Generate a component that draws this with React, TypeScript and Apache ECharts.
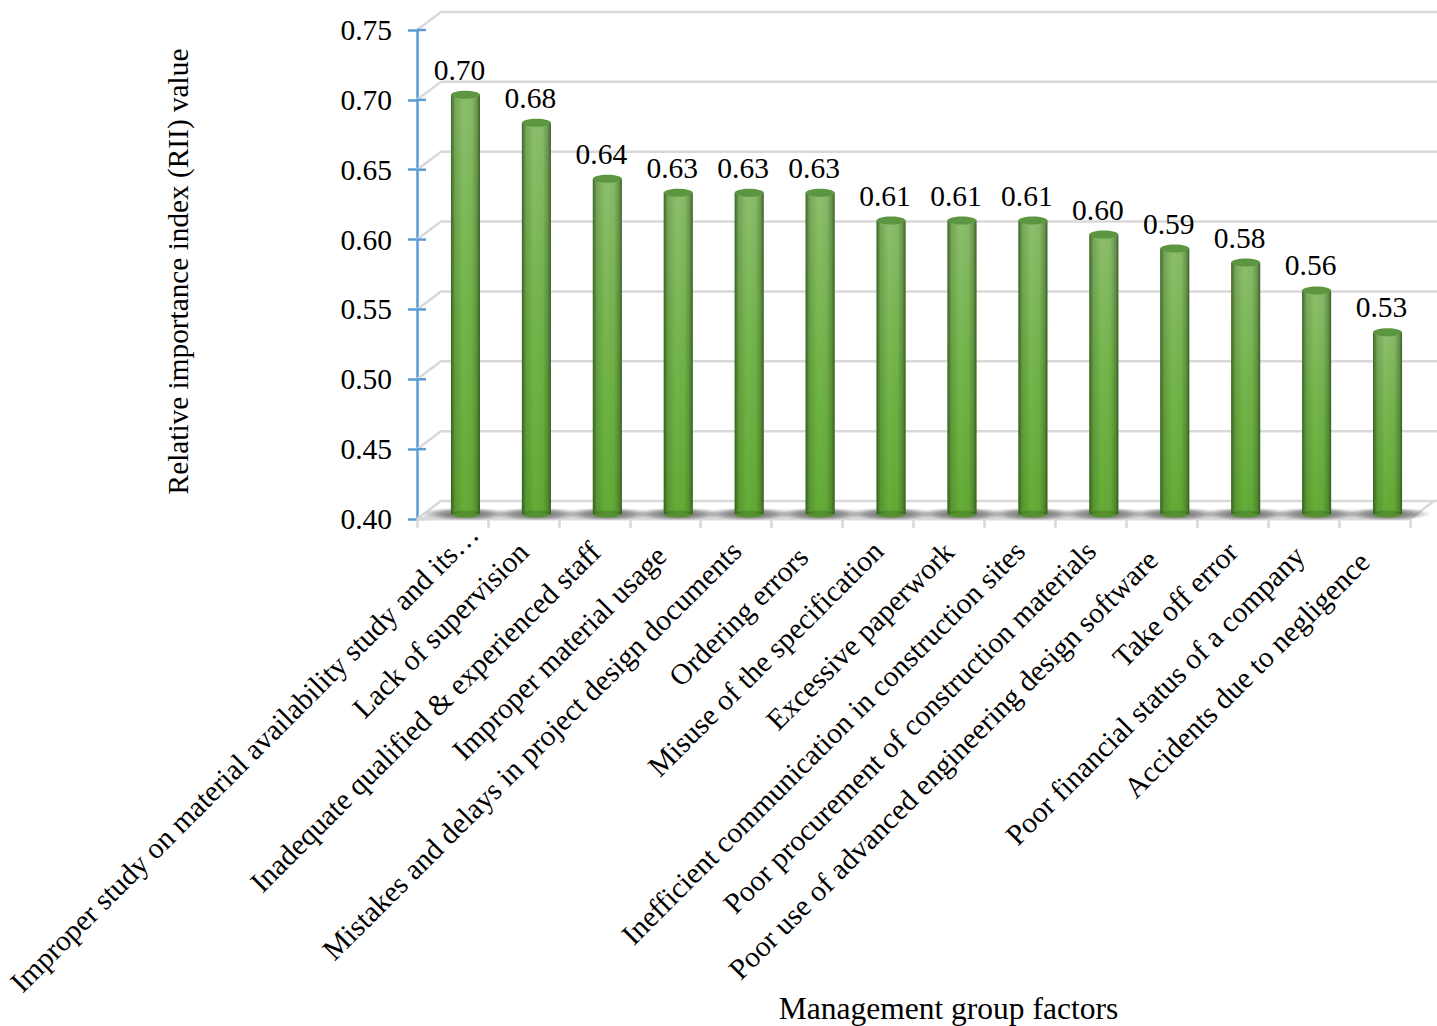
import React, { useEffect, useRef } from "react";
import * as echarts from "echarts";

const categories = [
  "Improper study on material availability study and its…",
  "Lack of supervision",
  "Inadequate qualified & experienced staff",
  "Improper material usage",
  "Mistakes and delays in project design documents",
  "Ordering errors",
  "Misuse of the specification",
  "Excessive paperwork",
  "Inefficient communication in construction sites",
  "Poor procurement of construction materials",
  "Poor use of advanced engineering design software",
  "Take off error",
  "Poor financial status of a company",
  "Accidents due to negligence",
];
const riiValues = [0.7, 0.68, 0.64, 0.63, 0.63, 0.63, 0.61, 0.61, 0.61, 0.6, 0.59, 0.58, 0.56, 0.53];
const wallTicks = [0.4, 0.45, 0.5, 0.55, 0.6, 0.65, 0.7, 0.75];

// Hand placement of the slanted category labels, relative to each band centre.
const labelNudgeX = [21, 0, 1, -4, 0, -4, 0, 0, 0, 0, -9, 0, -4, -10];
const labelNudgeY = [10, 28, 28, 32, 27, 33, 27, 28, 27, 27, 36, 28, 32, 38];

const SERIF = "'Liberation Serif', 'Times New Roman', serif";
const FONT_SIZE = 29.5;
// Oblique projection of the 3D box: how far the back wall sits from the front plane.
const DEPTH_X = 24;
const DEPTH_Y = -18;
// Cylinders stand halfway along the depth of the floor.
const BAR_DX = 13;
const BAR_DY = -5;
const BAR_R = 14.5;
const GRID_GREY = "#d9d9d9";
const AXIS_BLUE = "#5b9bd5";

const bodyShade = () =>
  new echarts.graphic.LinearGradient(0, 0, 1, 0, [
    { offset: 0, color: "rgba(40,70,25,0.75)" },
    { offset: 0.14, color: "rgba(40,70,25,0.22)" },
    { offset: 0.42, color: "rgba(40,70,25,0)" },
    { offset: 0.72, color: "rgba(40,70,25,0.05)" },
    { offset: 0.9, color: "rgba(40,70,25,0.35)" },
    { offset: 1, color: "rgba(40,70,25,0.8)" },
  ]);
const bodyBase = () =>
  new echarts.graphic.LinearGradient(0, 0, 0, 1, [
    { offset: 0, color: "#8cbf6c" },
    { offset: 0.5, color: "#74b64b" },
    { offset: 1, color: "#64ac36" },
  ]);

function renderWall(params: any, api: any) {
  const v = api.value(0);
  const c = params.coordSys;
  const y = api.coord([0, v])[1];
  return {
    type: "group",
    children: [
      {
        type: "polyline",
        shape: { points: [[c.x, y], [c.x + DEPTH_X, y + DEPTH_Y], [c.x + c.width + DEPTH_X + 3, y + DEPTH_Y]] },
        style: { stroke: GRID_GREY, lineWidth: 2.5, fill: "none" },
      },
      {
        // the blue tick crosses the axis line and runs a little way into the plot
        type: "line",
        shape: { x1: c.x, y1: y, x2: c.x + 9, y2: y },
        style: { stroke: AXIS_BLUE, lineWidth: 2.5 },
      },
    ],
  };
}

function renderFloor(params: any) {
  const c = params.coordSys;
  const y0 = c.y + c.height;
  const x0 = c.x;
  const x1 = c.x + c.width;
  return {
    type: "group",
    children: [
      {
        type: "polygon",
        shape: {
          points: [
            [x0 + 6, y0 - 1],
            [x0 + DEPTH_X * 0.55, y0 - 10],
            [x1 + DEPTH_X * 0.55, y0 - 10],
            [x1 + 4, y0 - 1],
          ],
        },
        style: {
          fill: new echarts.graphic.LinearGradient(0, 0, 0, 1, [
            { offset: 0, color: "rgba(170,170,170,0.1)" },
            { offset: 1, color: "rgba(170,170,170,0.4)" },
          ]),
        },
      },
      {
        type: "line",
        shape: { x1: x0, y1: y0, x2: x1, y2: y0 },
        style: { stroke: GRID_GREY, lineWidth: 3 },
      },
      {
        type: "line",
        shape: { x1: x1, y1: y0, x2: x1 + DEPTH_X, y2: y0 + DEPTH_Y },
        style: { stroke: GRID_GREY, lineWidth: 2.5 },
      },
    ],
  };
}

function renderBar(_params: any, api: any) {
  const i = api.value(0);
  const top = api.coord([i, api.value(1)]);
  const base = api.coord([i, 0.4]);
  const cx = top[0] + BAR_DX;
  const yTop = top[1] + BAR_DY;
  const yBase = base[1] + BAR_DY;
  return {
    type: "group",
    children: [
      {
        type: "ellipse",
        shape: { cx: cx, cy: yBase, rx: 44, ry: 6.5 },
        style: {
          fill: new echarts.graphic.RadialGradient(0.5, 0.5, 0.5, [
            { offset: 0, color: "rgba(50,50,50,0.8)" },
            { offset: 0.6, color: "rgba(80,80,80,0.5)" },
            { offset: 1, color: "rgba(120,120,120,0)" },
          ]),
        },
      },
      {
        type: "rect",
        shape: { x: cx - BAR_R, y: yTop, width: BAR_R * 2, height: yBase - yTop },
        style: { fill: bodyBase() },
      },
      {
        type: "ellipse",
        shape: { cx, cy: yBase, rx: BAR_R, ry: 3.5 },
        style: { fill: "#55912f" },
      },
      {
        type: "rect",
        shape: { x: cx - BAR_R, y: yTop, width: BAR_R * 2, height: yBase - yTop },
        style: { fill: bodyShade() },
      },
      {
        type: "ellipse",
        shape: { cx, cy: yTop, rx: BAR_R, ry: 4 },
        style: { fill: "#5c9640" },
      },
      {
        type: "text",
        style: {
          x: cx - 6,
          y: yTop - 25,
          text: api.value(1).toFixed(2),
          font: `${FONT_SIZE}px ${SERIF}`,
          fill: "#000",
          align: "center",
          verticalAlign: "middle",
        },
      },
    ],
  };
}

function renderCategoryLabel(_params: any, api: any) {
  const i = api.value(0);
  const anchor = api.coord([i, 0.4]);
  return {
    type: "text",
    x: anchor[0] + labelNudgeX[i],
    y: anchor[1] + labelNudgeY[i],
    rotation: Math.PI / 4,
    style: {
      text: categories[i],
      font: `${FONT_SIZE}px ${SERIF}`,
      fill: "#000",
      align: "right",
      verticalAlign: "middle",
    },
  };
}

export default function App() {
  const ref = useRef<HTMLDivElement>(null);
  useEffect(() => {
    const chart = echarts.init(ref.current!, undefined, { renderer: "svg" });
    chart.setOption({
      animation: false,
      backgroundColor: "#fff",
      grid: { left: 417, top: 30, width: 993, height: 489, outerBoundsMode: "none" },
      xAxis: {
        type: "category",
        data: categories,
        axisLine: { show: false },
        axisTick: {
          show: true,
          interval: 0,
          alignWithLabel: false,
          length: 9,
          lineStyle: { color: GRID_GREY, width: 2.5 },
        },
        axisLabel: { show: false },
        name: "Management group factors",
        nameLocation: "middle",
        nameGap: 473,
        nameTextStyle: { fontFamily: SERIF, fontSize: 31.5, color: "#000", padding: [0, 0, 0, 70] },
      },
      yAxis: {
        type: "value",
        min: 0.4,
        max: 0.75,
        interval: 0.05,
        splitLine: { show: false },
        axisLine: { show: true, lineStyle: { color: AXIS_BLUE, width: 2.5 } },
        axisTick: { show: true, length: 9, lineStyle: { color: AXIS_BLUE, width: 2.5 } },
        axisLabel: {
          margin: 25,
          fontFamily: SERIF,
          fontSize: FONT_SIZE,
          color: "#000",
          formatter: (v: number) => v.toFixed(2),
        },
        name: "Relative importance index (RII) value",
        nameLocation: "middle",
        nameGap: 225,
        nameRotate: 90,
        nameTextStyle: { fontFamily: SERIF, fontSize: 29.3, color: "#000", padding: [0, 0, 0, 6] },
      },
      series: [
        {
          type: "custom",
          name: "wall",
          coordinateSystem: "cartesian2d",
          renderItem: renderWall,
          data: wallTicks.map((v) => [v]),
          encode: { y: 0 },
          silent: true,
          z: 1,
        },
        {
          type: "custom",
          name: "floor",
          coordinateSystem: "cartesian2d",
          renderItem: renderFloor,
          data: [[0, 0.4]],
          silent: true,
          z: 2,
        },
        {
          type: "custom",
          name: "RII",
          coordinateSystem: "cartesian2d",
          renderItem: renderBar,
          data: riiValues.map((v, i) => [i, v]),
          encode: { x: 0, y: 1 },
          z: 3,
        },
        {
          type: "custom",
          name: "category labels",
          coordinateSystem: "cartesian2d",
          renderItem: renderCategoryLabel,
          data: categories.map((_, i) => [i, 0.4]),
          encode: { x: 0, y: 1 },
          silent: true,
          z: 4,
        },
      ],
    });
    return () => chart.dispose();
  }, []);
  return <div ref={ref} style={{ position: "absolute", left: 0, top: 0, width: 1437, height: 1026 }} />;
}
